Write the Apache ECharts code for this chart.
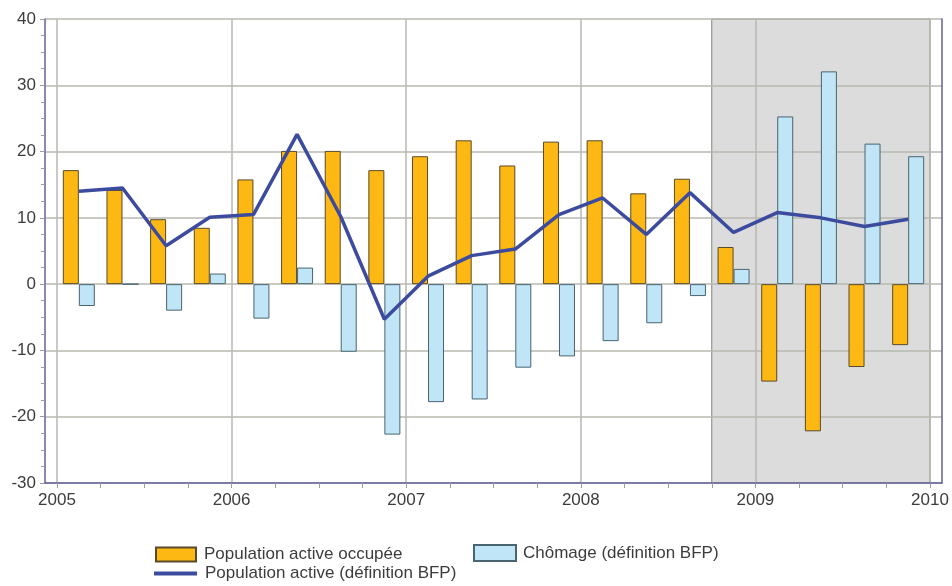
<!DOCTYPE html>
<html>
<head>
<meta charset="utf-8">
<script src="https://cdn.jsdelivr.net/npm/echarts@6/dist/echarts.min.js"></script>
<style>
  html, body { margin: 0; padding: 0; background: #ffffff; }
  #chart { width: 952px; height: 586px; }
</style>
</head>
<body>
<div id="chart"></div>
<script>
// Quarterly changes (thousands of persons), 2005–2009
const quarters = [
  '2005T1', '2005T2', '2005T3', '2005T4',
  '2006T1', '2006T2', '2006T3', '2006T4',
  '2007T1', '2007T2', '2007T3', '2007T4',
  '2008T1', '2008T2', '2008T3', '2008T4',
  '2009T1', '2009T2', '2009T3', '2009T4'
];
const populationOccupee = [17.2, 14.2, 9.8, 8.5, 15.8, 20.1, 20.1, 17.2, 19.3, 21.7, 17.9, 21.5, 21.7, 13.7, 15.9, 5.6, -14.7, -22.2, -12.5, -9.2];
const chomage = [-3.3, 0.0, -4.0, 1.6, -5.2, 2.5, -10.2, -22.7, -17.8, -17.4, -12.6, -10.9, -8.6, -5.9, -1.8, 2.3, 25.3, 32.1, 21.2, 19.3];
const populationActive = [14.0, 14.5, 5.8, 10.1, 10.5, 22.6, 10.2, -5.3, 1.2, 4.3, 5.3, 10.5, 13.0, 7.5, 13.8, 7.8, 10.8, 10.0, 8.7, 9.8];

// Axis labels and ticks
const yearLabels = [2005, 2006, 2007, 2008, 2009, 2010];
const quarterTicks = [];
for (let y = 2005; y < 2010; y++) for (let q = 0; q < 4; q++) quarterTicks.push(y + q / 4);
quarterTicks.push(2010);
// Forecast period (shaded)
const shadedPeriod = [2008.75, 2010];

// Place each quarter at the middle of its span on the time axis
function quarterPos(label) {
  const year = parseInt(label.slice(0, 4), 10);
  const q = parseInt(label.slice(5), 10);
  return year + (q - 0.5) / 4;
}
const pairs = (vals) => quarters.map((c, i) => [quarterPos(c), vals[i]]);

const X_MIN = 2004.9313, X_MAX = 2010.0687;
const axisColor = '#62629a';
const gridColor = '#b8b8b0';
const textColor = '#3c3c3c';
const font = 'Liberation Sans, Arial, sans-serif';

const chart = echarts.init(document.getElementById('chart'), null, { renderer: 'canvas' });
chart.setOption({
  animation: false,
  backgroundColor: '#ffffff',
  grid: { left: 45, right: 10, top: 19, bottom: 103, containLabel: false },
  legend: [
    {
      data: ['Population active occupée'], left: 150, top: 541, icon: 'rect',
      itemWidth: 40, itemHeight: 14,
      textStyle: { fontSize: 17, color: textColor, fontFamily: font, padding: [0, 0, 0, 3] }
    },
    {
      data: ['Chômage (définition BFP)'], left: 468, top: 539, icon: 'rect',
      itemWidth: 42, itemHeight: 16,
      textStyle: { fontSize: 17, color: textColor, fontFamily: font, padding: [0, 0, 0, 2] }
    },
    {
      data: ['Population active (définition BFP)'], left: 149, top: 560, icon: 'rect',
      itemWidth: 43, itemHeight: 4,
      textStyle: { fontSize: 17, color: textColor, fontFamily: font, padding: [0, 0, 0, 3] }
    }
  ],
  xAxis: [
    {
      type: 'value', min: X_MIN, max: X_MAX, z: 1.5,
      axisLine: { show: true, onZero: false, lineStyle: { color: axisColor, width: 1.5 } },
      axisTick: { show: true, customValues: quarterTicks, length: 5, lineStyle: { color: '#9a9aa8' } },
      axisLabel: { customValues: yearLabels, fontSize: 17, color: textColor, fontFamily: font, margin: 9,
        formatter: (v) => String(Math.round(v)) },
      splitLine: { show: false }
    },
    {
      type: 'value', min: X_MIN, max: X_MAX, position: 'top', z: 1.5,
      axisLine: { show: false },
      axisTick: { show: false, customValues: yearLabels },
      axisLabel: { show: false, customValues: yearLabels },
      splitLine: { show: true, lineStyle: { color: gridColor, width: 1.5 } }
    }
  ],
  yAxis: [
    {
      type: 'value', min: -30, max: 40, interval: 10, z: 1.5,
      axisLine: { show: true, onZero: false, lineStyle: { color: axisColor, width: 1.5 } },
      axisTick: { show: true, length: 5, lineStyle: { color: '#9a9aa8' } },
      minorTick: { show: true, splitNumber: 4, length: 4, lineStyle: { color: '#9a9aa8' } },
      axisLabel: { fontSize: 17, color: textColor, fontFamily: font, margin: 9 },
      splitLine: { show: true, lineStyle: { color: gridColor, width: 1.5 } }
    },
    {
      type: 'value', min: -30, max: 40, interval: 10, position: 'right', z: 1.5,
      axisLine: { show: true, lineStyle: { color: axisColor, width: 1.5 } },
      axisTick: { show: false }, axisLabel: { show: false }, splitLine: { show: false }
    }
  ],
  series: [
    {
      name: 'shade', type: 'line', data: [], z: 0, silent: true,
      markArea: {
        silent: true, z: 0.5,
        itemStyle: { color: '#dcdcdc', borderColor: '#7a8a78', borderWidth: 1 },
        data: [[{ xAxis: shadedPeriod[0] }, { xAxis: shadedPeriod[1] }]]
      }
    },
    {
      name: 'Population active occupée', type: 'bar', data: pairs(populationOccupee),
      barWidth: 16, barGap: '0%',
      itemStyle: { color: '#fdb813', borderColor: '#5a4a28', borderWidth: 1 }
    },
    {
      name: 'Chômage (définition BFP)', type: 'bar', data: pairs(chomage),
      barWidth: 16, barGap: '0%',
      itemStyle: { color: '#bfe5f6', borderColor: '#4a6470', borderWidth: 1 }
    },
    {
      name: 'Population active (définition BFP)', type: 'line', data: pairs(populationActive),
      symbol: 'none', z: 5,
      lineStyle: { color: '#3c4b9e', width: 3.5 },
      itemStyle: { color: '#3c4b9e' }
    }
  ]
});
</script>
</body>
</html>
